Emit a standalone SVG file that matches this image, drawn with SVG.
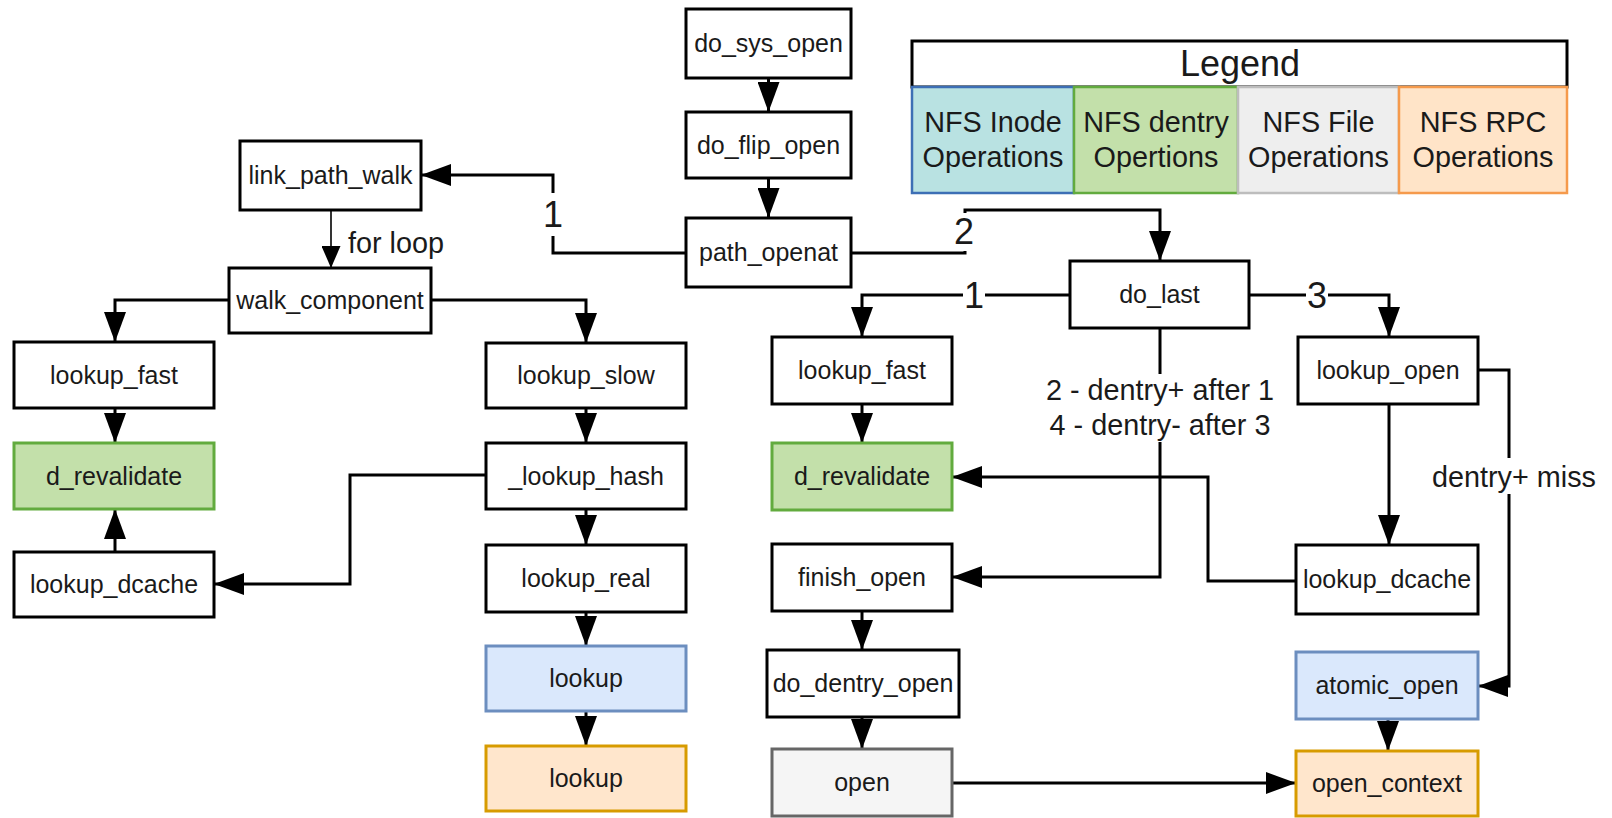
<svg xmlns="http://www.w3.org/2000/svg" width="1612" height="818" viewBox="0 0 1612 818">
<defs>
<style>
.n rect{fill:#ffffff;stroke:#000000;stroke-width:3}
.n text{font-family:"Liberation Sans",Arial,sans-serif;font-size:25px;fill:#1a1a1a;text-anchor:middle}
.g rect{fill:#c3e0aa;stroke:#62ab3e}
.b rect{fill:#dae8fc;stroke:#6c8ebf}
.o rect{fill:#ffe6cc;stroke:#d79b00}
.f rect{fill:#f5f5f5;stroke:#666666}
.e path{fill:none;stroke:#000000;stroke-width:3;marker-end:url(#ah)}
.e path.thin{stroke-width:1.6;marker-end:url(#ahs)}
.lbl{font-family:"Liberation Sans",Arial,sans-serif;font-size:28.8px;fill:#1a1a1a}
.dig{font-family:"Liberation Sans",Arial,sans-serif;font-size:36px;fill:#1a1a1a;text-anchor:middle}
.bg{fill:#ffffff;stroke:none}
.lg text{font-family:"Liberation Sans",Arial,sans-serif;font-size:28.8px;fill:#1a1a1a;text-anchor:middle}
</style>
<marker id="ah" viewBox="0 0 30 22" refX="30" refY="11" markerWidth="30" markerHeight="22" markerUnits="userSpaceOnUse" orient="auto"><path d="M0,0 L30,11 L0,22 Z" fill="#000000"/></marker>
<marker id="ahs" viewBox="0 0 22 19" refX="22" refY="9.5" markerWidth="22" markerHeight="19" markerUnits="userSpaceOnUse" orient="auto"><path d="M0,0 L22,9.5 L0,19 Z" fill="#000000"/></marker>
</defs>
<rect width="1612" height="818" fill="#ffffff"/>

<g id="connectors" class="e">
<path d="M768.5,78 V112"/>
<path d="M768.5,178 V218"/>
<path d="M686,253 H553 V175 H421"/>
<path d="M851,253 H965 V210 H1160 V261"/>
<path class="thin" d="M331,210 V268"/>
<path d="M229,300 H115 V342"/>
<path d="M431,300 H586 V343"/>
<path d="M115,408 V443"/>
<path d="M115,552 V509"/>
<path d="M586,408 V443"/>
<path d="M486,475 H350 V584 H214"/>
<path d="M586,509 V545"/>
<path d="M586,612 V646"/>
<path d="M586,711 V746"/>
<path d="M1070,295 H862 V337"/>
<path d="M1249,295 H1389 V337"/>
<path d="M1160,328 V577 H952"/>
<path d="M862,404 V443"/>
<path d="M1389,404 V545"/>
<path d="M1296,581 H1208 V477 H952"/>
<path d="M1478,370 H1509 V686 H1478"/>
<path d="M862,611 V650"/>
<path d="M862,717 V749"/>
<path d="M952,783 H1296"/>
<path d="M1388,719 V751"/>
</g>

<g id="edge-labels">
<rect class="bg" x="543" y="193" width="20" height="43"/>
<text class="dig" x="553" y="227">1</text>
<rect class="bg" x="954" y="213" width="22" height="38"/>
<text class="dig" x="964" y="244">2</text>
<rect class="bg" x="963" y="280" width="22" height="31"/>
<text class="dig" x="974" y="308">1</text>
<rect class="bg" x="1306" y="280" width="22" height="31"/>
<text class="dig" x="1317" y="308">3</text>
<text class="lbl" x="348" y="253">for loop</text>
<rect class="bg" x="1045" y="374" width="232" height="68"/>
<text class="lbl" x="1160" y="400" text-anchor="middle">2 - dentry+ after 1</text>
<text class="lbl" x="1160" y="435" text-anchor="middle">4 - dentry- after 3</text>
<rect class="bg" x="1432" y="458" width="164" height="36"/>
<text class="lbl" x="1514" y="487" text-anchor="middle">dentry+ miss</text>
</g>

<g id="legend" class="lg">
<rect x="912" y="41" width="655" height="46" fill="#ffffff" stroke="#000000" stroke-width="3"/>
<text x="1240" y="76" style="font-size:36px">Legend</text>
<rect x="912" y="87" width="162" height="106" fill="#b9e2e2" stroke="#3d6fb5" stroke-width="2.5"/>
<rect x="1074" y="87" width="164" height="106" fill="#c3e0aa" stroke="#62ab3e" stroke-width="2.5"/>
<rect x="1238" y="87" width="161" height="106" fill="#eeeeee" stroke="#bdbdbd" stroke-width="2.5"/>
<rect x="1399" y="87" width="168" height="106" fill="#ffe4c8" stroke="#f59a4c" stroke-width="2.5"/>
<text x="993" y="132">NFS Inode</text><text x="993" y="167">Operations</text>
<text x="1156" y="132">NFS dentry</text><text x="1156" y="167">Opertions</text>
<text x="1318.5" y="132">NFS File</text><text x="1318.5" y="167">Operations</text>
<text x="1483" y="132">NFS RPC</text><text x="1483" y="167">Operations</text>
</g>

<g id="do_sys_open" class="n"><rect x="686" y="9" width="165" height="69"/><text x="768.5" y="52">do_sys_open</text></g>
<g id="do_flip_open" class="n"><rect x="686" y="112" width="165" height="66"/><text x="768.5" y="154">do_flip_open</text></g>
<g id="path_openat" class="n"><rect x="686" y="218" width="165" height="69"/><text x="768.5" y="261">path_openat</text></g>
<g id="link_path_walk" class="n"><rect x="240" y="141" width="181" height="69"/><text x="330.5" y="184">link_path_walk</text></g>
<g id="walk_component" class="n"><rect x="229" y="268" width="202" height="65"/><text x="330" y="309">walk_component</text></g>
<g id="lookup_fast_l" class="n"><rect x="14" y="342" width="200" height="66"/><text x="114" y="384">lookup_fast</text></g>
<g id="d_revalidate_l" class="n g"><rect x="14" y="443" width="200" height="66"/><text x="114" y="485">d_revalidate</text></g>
<g id="lookup_dcache_l" class="n"><rect x="14" y="552" width="200" height="65"/><text x="114" y="593">lookup_dcache</text></g>
<g id="lookup_slow" class="n"><rect x="486" y="343" width="200" height="65"/><text x="586" y="384">lookup_slow</text></g>
<g id="_lookup_hash" class="n"><rect x="486" y="443" width="200" height="66"/><text x="586" y="485">_lookup_hash</text></g>
<g id="lookup_real" class="n"><rect x="486" y="545" width="200" height="67"/><text x="586" y="587">lookup_real</text></g>
<g id="lookup_inode" class="n b"><rect x="486" y="646" width="200" height="65"/><text x="586" y="687">lookup</text></g>
<g id="lookup_rpc" class="n o"><rect x="486" y="746" width="200" height="65"/><text x="586" y="787">lookup</text></g>
<g id="do_last" class="n"><rect x="1070" y="261" width="179" height="67"/><text x="1159.5" y="303">do_last</text></g>
<g id="lookup_fast_r" class="n"><rect x="772" y="337" width="180" height="67"/><text x="862" y="379">lookup_fast</text></g>
<g id="d_revalidate_r" class="n g"><rect x="772" y="443" width="180" height="67"/><text x="862" y="485">d_revalidate</text></g>
<g id="finish_open" class="n"><rect x="772" y="544" width="180" height="67"/><text x="862" y="586">finish_open</text></g>
<g id="do_dentry_open" class="n"><rect x="767" y="650" width="192" height="67"/><text x="863" y="692">do_dentry_open</text></g>
<g id="open" class="n f"><rect x="772" y="749" width="180" height="67"/><text x="862" y="791">open</text></g>
<g id="lookup_open" class="n"><rect x="1298" y="337" width="180" height="67"/><text x="1388" y="379">lookup_open</text></g>
<g id="lookup_dcache_r" class="n"><rect x="1296" y="545" width="182" height="69"/><text x="1387" y="588">lookup_dcache</text></g>
<g id="atomic_open" class="n b"><rect x="1296" y="652" width="182" height="67"/><text x="1387" y="694">atomic_open</text></g>
<g id="open_context" class="n o"><rect x="1296" y="751" width="182" height="65"/><text x="1387" y="792">open_context</text></g>
</svg>
